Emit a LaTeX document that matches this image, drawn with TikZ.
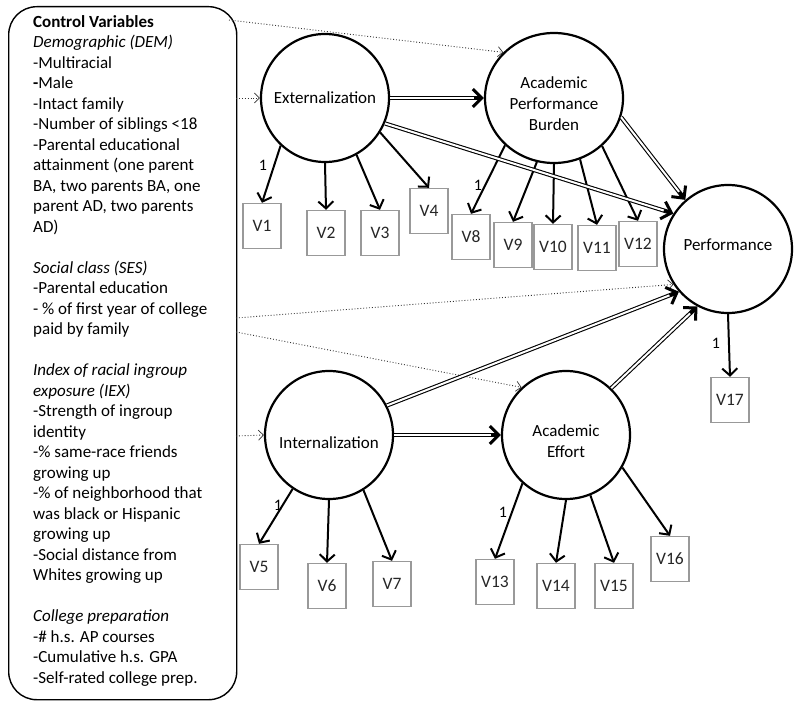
\documentclass[tikz,border=0pt]{standalone}
\usepackage{fontspec}
\setmainfont{Carlito}
\usetikzlibrary{arrows.meta,shapes.geometric,calc}
\begin{document}
\begin{tikzpicture}[x=1pt,y=-1pt,
  every node/.style={font=\fontsize{17}{21}\selectfont},
  latent/.style={circle,draw,line width=2.2pt,minimum size=128pt,inner sep=0pt,align=center},
  intext/.style={align=center,inner sep=0pt,font=\fontsize{17}{21}\selectfont},
  obs/.style={draw=black!40,line width=1.4pt,minimum width=38pt,minimum height=45pt,inner sep=0pt,text=black!85,font=\fontsize{17.5}{21}\selectfont},
  load/.style={line width=2pt,-{Straight Barb[length=7pt,width=15pt]}},
  dbl/.style={double,double distance=2pt,line width=1.1pt,shorten >=4pt},
  dtip/.style={line width=3pt,-{Straight Barb[length=9pt,width=18pt]}},
  ctrl/.style={dotted,line width=0.9pt,draw=black!80,-{Straight Barb[length=5pt,width=10pt,line width=0.7pt]}},
  one/.style={font=\fontsize{16}{18}\selectfont,inner sep=1pt}
]
\useasboundingbox (0,0) rectangle (800,703);
% control variables box
\node[draw,line width=1.4pt,rounded corners=28pt,minimum width=228pt,minimum height=693pt,anchor=north west,inner sep=0pt] (ctrlbox) at (8,6) {};
\node[anchor=north west,align=left,inner sep=0pt,font=\fontsize{17}{20.5}\selectfont] (ctext) at (33,15) {%
\textbf{Control Variables}\\
\textit{Demographic (DEM)}\\
-Multiracial\\
\textbf{-}Male\\
-Intact family\\
-Number of siblings <18\\
-Parental educational\\
attainment (one parent\\
BA, two parents BA, one\\
parent AD, two parents\\
AD)\\[20.5pt]
\textit{Social class (SES)}\\
-Parental education\\
- \% of first year of college\\
paid by family\\[20.5pt]
\textit{Index of racial ingroup}\\
\textit{exposure (IEX)}\\
-Strength of ingroup\\
identity\\
-\% same-race friends\\
growing up\\
-\% of neighborhood that\\
was black or Hispanic\\
growing up\\
-Social distance from\\
Whites growing up\\[20.5pt]
\textit{College preparation}\\
-\# h.s. AP courses\\
-Cumulative h.s. GPA\\
-Self-rated college prep.};
% latent variables
\node[latent] (ext) at (325,98) {};
\node[latent,ellipse,minimum width=138pt,minimum height=130pt] (apb) at (554,98) {};
\node[latent] (perf) at (728,249) {};
\node[latent] (int) at (329,435) {};
\node[latent] (ae) at (566,435) {};
\node[intext] (extT) at (325,98) {Externalization};
\node[intext] (apbT) at (554,104) {Academic\\Performance\\Burden};
\node[intext] (perfT) at (728,245) {Performance};
\node[intext] (intT) at (329,443) {Internalization};
\node[intext] (aeT) at (566,441) {Academic\\Effort};
% observed variables
\node[obs] (v1) at (262,226) {V1};
\node[obs] (v2) at (326,233) {V2};
\node[obs] (v3) at (380,233) {V3};
\node[obs] (v4) at (429,211) {V4};
\node[obs] (v8) at (471,237) {V8};
\node[obs] (v9) at (513,245) {V9};
\node[obs] (v10) at (553,247) {V10};
\node[obs] (v11) at (597,248) {V11};
\node[obs] (v12) at (638,244) {V12};
\node[obs] (v17) at (730,400) {V17};
\node[obs] (v5) at (259,567) {V5};
\node[obs] (v6) at (327,586) {V6};
\node[obs] (v7) at (392,584) {V7};
\node[obs] (v13) at (495,582) {V13};
\node[obs] (v14) at (556,586) {V14};
\node[obs] (v15) at (614,586) {V15};
\node[obs] (v16) at (670,559) {V16};
% loadings
\draw[load] (ext.-133) -- (v1.north);
\draw[load] (ext.south) -- (v2.north);
\draw[load] (ext.-61) -- (v3.north);
\draw[load] (ext.-32) -- (v4.north);
\draw[load] (apb.-136) -- (v8.north);
\draw[load] (apb.-105) -- (v9.north);
\draw[load] (apb.south) -- (v10.north);
\draw[load] (apb.-67) -- (v11.north);
\draw[load] (apb.-45) -- (v12.north);
\draw[load] (perf.south) -- (v17.north);
\draw[load] (int.-124) -- (v5.north);
\draw[load] (int.south) -- (v6.north);
\draw[load] (int.-58) -- (v7.north);
\draw[load] (ae.-132) -- (v13.north);
\draw[load] (ae.south) -- (v14.north);
\draw[load] (ae.-68) -- (v15.north);
\draw[load] (ae.-30) -- (v16.north);
\node[one] (l1) at (263,165) {1};
\node[one] (l8) at (478,185) {1};
\node[one] (l17) at (716,343) {1};
\node[one] (l5) at (278,505) {1};
\node[one] (l13) at (503,512) {1};
% control paths
\coordinate (c1) at (229,20);
\coordinate (c2) at (236,98);
\coordinate (c3) at (236,318);
\coordinate (c4) at (236,332);
\coordinate (c5) at (236,436);
\draw[ctrl] (c1) -- (apb.138);
\draw[ctrl] (c2) -- (ext.west);
\draw[ctrl] (c3) -- (perf.213);
\draw[ctrl] (c4) -- (ae.133);
\draw[ctrl] (c5) -- (int.west);
% structural paths
\draw[dbl] (ext.east) -- (apb.west);
\draw[dtip] ($(apb.west)!10pt!(ext.east)$) -- (apb.west);
\draw[dbl] (ext.-23) -- (perf.147);
\draw[dtip] ($(perf.147)!10pt!(ext.-23)$) -- (perf.147);
\draw[dbl] (apb.-16) -- (perf.131);
\draw[dtip] ($(perf.131)!10pt!(apb.-16)$) -- (perf.131);
\draw[dbl] (int.27) -- (perf.221);
\draw[dtip] ($(perf.221)!10pt!(int.27)$) -- (perf.221);
\draw[dbl] (ae.46) -- (perf.242);
\draw[dtip] ($(perf.242)!10pt!(ae.46)$) -- (perf.242);
\draw[dbl] (int.east) -- (ae.west);
\draw[dtip] ($(ae.west)!10pt!(int.east)$) -- (ae.west);
\end{tikzpicture}
\end{document}
